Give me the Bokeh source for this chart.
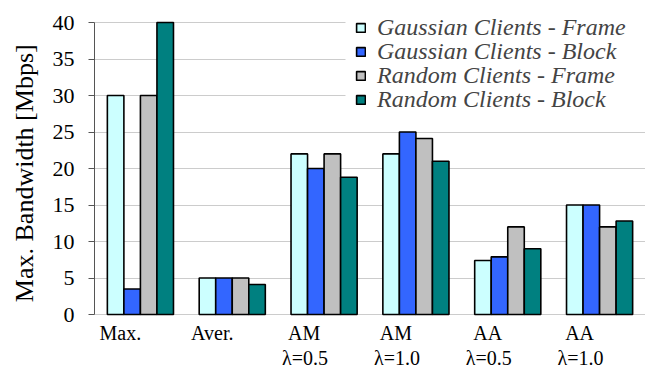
from bokeh.plotting import figure
from bokeh.models import (Range1d, ColumnDataSource, Legend, LegendItem, FixedTicker,
                          BoxAnnotation)
from bokeh.core.properties import value
from bokeh.transform import dodge
from bokeh.embed import file_html
from bokeh.resources import INLINE

categories = ["max", "aver", "am05", "am10", "aa05", "aa10"]
label_line1 = ["Max.", "Aver.", "AM", "AM", "AA", "AA"]
label_line2 = ["", "", "λ=0.5", "λ=1.0", "λ=0.5", "λ=1.0"]
y_ticks = [0, 5, 10, 15, 20, 25, 30, 35, 40]

series_names = ["Gaussian Clients - Frame", "Gaussian Clients - Block",
                "Random Clients - Frame", "Random Clients - Block"]
gauss_frame = [30, 5, 22, 22, 7.4, 15]
gauss_block = [3.5, 5, 20, 25, 7.9, 15]
rand_frame = [30, 5, 22, 24.1, 12, 12]
rand_block = [40, 4.1, 18.8, 21, 9, 12.8]
series_values = [gauss_frame, gauss_block, rand_frame, rand_block]
colors = ["#CCFFFF", "#3366FF", "#C0C0C0", "#008080"]

SERIF = "Liberation Serif"
N = len(categories)

# vertical layout (pixels): value axis 0..40 spans 292 px; room above and below
H_PX = 365
PX_PER_UNIT = 292 / 40
TOP_PAD = 22 / PX_PER_UNIT
BOTTOM_PAD = 51 / PX_PER_UNIT
ZERO_PX = 314
cat_w = 551 / N

p = figure(width=645, height=H_PX, x_range=Range1d(-0.5, N - 0.5),
           y_range=Range1d(-BOTTOM_PAD, y_ticks[-1] + TOP_PAD),
           output_backend="svg", toolbar_location=None, x_axis_location=None,
           min_border_left=94, min_border_right=0, min_border_top=0,
           min_border_bottom=0)
p.outline_line_color = None
p.xgrid.visible = False
p.ygrid.ticker = FixedTicker(ticks=y_ticks)
p.ygrid.grid_line_color = "#cccccc"
p.ygrid.grid_line_width = 1

yax = p.yaxis[0]
yax.ticker = FixedTicker(ticks=y_ticks)
yax.bounds = (y_ticks[0], y_ticks[-1])
yax.minor_tick_line_color = None
yax.major_tick_in = 0
yax.major_tick_out = 6
yax.axis_line_color = "#555555"
yax.major_tick_line_color = "#555555"
yax.major_label_text_font = SERIF
yax.major_label_text_font_size = "22px"
yax.major_label_text_color = "black"
yax.major_label_standoff = 14
# leading no-break spaces lift the centred label to the 0..40 span
yax.axis_label = "\u00a0\u00a0\u00a0Max. Bandwidth [Mbps]"
yax.axis_label_text_font = SERIF
yax.axis_label_text_font_style = "normal"
yax.axis_label_text_font_size = "26px"
yax.axis_label_text_color = "black"
yax.axis_label_standoff = 11

data = {"cat": categories, "idx": list(range(N))}
for i, vals in enumerate(series_values):
    data[f"s{i}"] = vals
src = ColumnDataSource(data)

bar_w = 0.18
offsets = [-1.5 * bar_w, -0.5 * bar_w, 0.5 * bar_w, 1.5 * bar_w]
renderers = []
for i in range(4):
    r = p.vbar(x=dodge("idx", offsets[i]), top=f"s{i}", width=bar_w,
               source=src, fill_color=colors[i], line_color="black", line_width=1.6)
    renderers.append(r)

# white panel behind the legend (hides the grid lines there)
legend_bg = BoxAnnotation(left=(345 - 94) / cat_w - 0.5, right=N - 0.5,
                          bottom=(ZERO_PX - 113) / PX_PER_UNIT,
                          top=(ZERO_PX - 4) / PX_PER_UNIT,
                          fill_color="white", fill_alpha=1, line_alpha=0)
p.add_layout(legend_bg)

# one legend per row so the row pitch matches the original
ROW_H = 36
ROW_PITCH = 24.3
FIRST_ROW_CENTER = 27
for i in range(4):
    center = FIRST_ROW_CENTER + i * ROW_PITCH
    vy = H_PX - center - ROW_H / 2
    lg = Legend(items=[LegendItem(label=series_names[i], renderers=[renderers[i]])],
                location=(261, vy), padding=0, margin=0, spacing=0,
                label_height=ROW_H, glyph_width=11, glyph_height=11,
                label_standoff=11, label_text_font=SERIF,
                label_text_font_style="italic", label_text_font_size="24px",
                background_fill_alpha=0, border_line_alpha=0)
    p.add_layout(lg)

# category labels under the groups, slightly left of the group centres
lab_src = ColumnDataSource({
    "x1": [i - 20 / cat_w for i in range(N)],
    "x2": [i - 19 / cat_w for i in range(N)],
    "t1": label_line1,
    "t2": label_line2,
})
common = dict(source=lab_src, text_align="center", text_baseline="alphabetic",
              text_font=value(SERIF), text_font_size="20px", text_color="black")
p.text(x="x1", y=-18 / PX_PER_UNIT, text="t1", **common)
p.text(x="x2", y=-43 / PX_PER_UNIT, text="t2", **common)

open("out.html", "w").write(file_html(p, INLINE))
